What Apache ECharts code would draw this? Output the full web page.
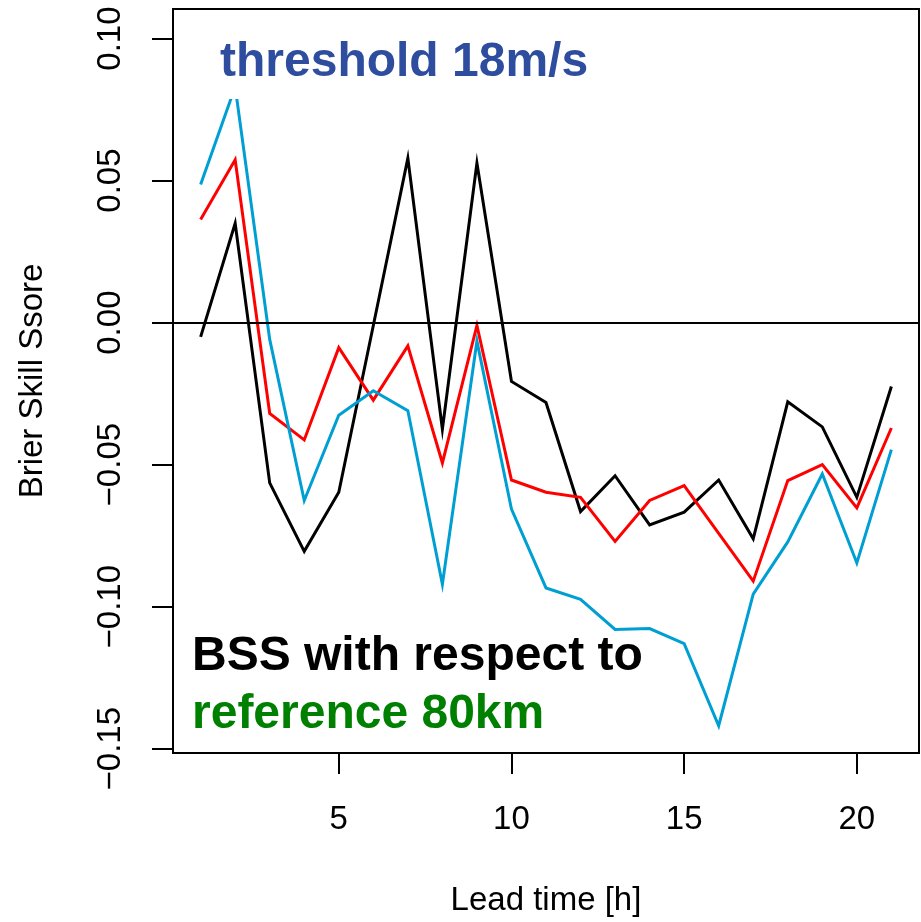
<!DOCTYPE html>
<html>
<head>
<meta charset="utf-8">
<script src="https://cdn.jsdelivr.net/npm/echarts@6/dist/echarts.min.js"></script>
<style>
  html, body { margin: 0; padding: 0; background: #fff; }
  #chart { width: 921px; height: 922px; }
</style>
</head>
<body>
<div id="chart"></div>
<script>
// Lead times (hours)
const leadTimes = [1, 2, 3, 4, 5, 6, 7, 8, 9, 10, 11, 12, 13, 14, 15, 16, 17, 18, 19, 20, 21];

// Brier Skill Score per lead time, one array per experiment
const bssBlack = [-0.005, 0.035, -0.0564, -0.0805, -0.0597, -0.001, 0.0579, -0.0375, 0.0562, -0.0207,
                  -0.0281, -0.0665, -0.0539, -0.0712, -0.0667, -0.0554, -0.0761, -0.0279, -0.0367, -0.0615, -0.0225];
const bssRed   = [0.0363, 0.0573, -0.032, -0.0413, -0.0088, -0.0273, -0.0082, -0.0494, -0.001, -0.0554,
                  -0.0597, -0.0615, -0.077, -0.0626, -0.0574, -0.0742, -0.091, -0.0556, -0.05, -0.0652, -0.0371];
const bssCyan  = [0.0486, 0.083, -0.0059, -0.0626, -0.0326, -0.024, -0.031, -0.0921, -0.0065, -0.0656,
                  -0.0934, -0.0974, -0.108, -0.1077, -0.113, -0.1419, -0.0956, -0.0772, -0.0533, -0.0846, -0.0447];

// Axis tick positions
const xTicks = [5, 10, 15, 20];
const yTicks = [-0.15, -0.10, -0.05, 0.00, 0.05, 0.10];

const FONT = '"Liberation Sans", Arial, Helvetica, sans-serif';

function pairs(ys) {
  return leadTimes.map((x, i) => [x, ys[i]]);
}

const chart = echarts.init(document.getElementById('chart'), null, { renderer: 'canvas' });

const lineSeries = (name, data, color) => ({
  name: name,
  type: 'line',
  data: pairs(data),
  symbol: 'none',
  smooth: false,
  lineStyle: { color: color, width: 3, join: 'miter' },
  z: 3,
  animation: false
});

const black = lineSeries('black', bssBlack, '#000000');
// horizontal reference line at zero skill
black.markLine = {
  silent: true,
  symbol: 'none',
  label: { show: false },
  lineStyle: { color: '#000', width: 2, type: 'solid' },
  data: [{ yAxis: 0 }],
  animation: false
};

chart.setOption({
  animation: false,
  backgroundColor: '#fff',
  grid: {
    left: 173, top: 9, right: 2, bottom: 167,
    show: true, borderColor: '#000', borderWidth: 2, backgroundColor: 'transparent'
  },
  xAxis: {
    type: 'value',
    min: 0.2, max: 21.8,
    name: 'Lead time [h]',
    nameLocation: 'middle',
    nameGap: 131,
    nameTextStyle: { fontFamily: FONT, fontSize: 33, color: '#000' },
    axisLine: { show: false, onZero: false },
    splitLine: { show: false },
    axisTick: { show: true, customValues: xTicks, length: 21, inside: false, lineStyle: { color: '#000', width: 2 } },
    axisLabel: {
      show: true, customValues: xTicks, margin: 50,
      fontFamily: FONT, fontSize: 33, color: '#000',
      formatter: v => String(v)
    }
  },
  yAxis: {
    type: 'value',
    min: -0.1515, max: 0.1104,
    name: 'Brier Skill Ssore',
    nameLocation: 'middle',
    nameGap: 124,
    nameRotate: 90,
    nameTextStyle: { fontFamily: FONT, fontSize: 33, color: '#000' },
    axisLine: { show: false, onZero: false },
    splitLine: { show: false },
    axisTick: { show: true, customValues: yTicks, length: 21, inside: false, lineStyle: { color: '#000', width: 2 } },
    axisLabel: {
      show: true, customValues: yTicks, margin: 46, rotate: 90,
      fontFamily: FONT, fontSize: 33, color: '#000',
      formatter: v => (v < 0 ? '\u2212' : '') + Math.abs(v).toFixed(2)
    }
  },
  series: [black, lineSeries('red', bssRed, '#FF0000'), lineSeries('cyan', bssCyan, '#009FD3')],
  graphic: [
    // white legend box behind the title text
    { type: 'rect', z: 50, silent: true, shape: { x: 190, y: 10, width: 430, height: 89 }, style: { fill: '#fff' } },
    { type: 'text', z: 51, silent: true, left: 220, top: 39,
      style: { text: 'threshold 18m/s', font: 'bold 48px ' + FONT, fill: '#2E4D9E' } },
    { type: 'text', z: 51, silent: true, left: 192, top: 633,
      style: { text: 'BSS with respect to', font: 'bold 48px ' + FONT, fill: '#000' } },
    { type: 'text', z: 51, silent: true, left: 192, top: 691,
      style: { text: 'reference 80km', font: 'bold 48px ' + FONT, fill: '#008000' } }
  ]
});
</script>
</body>
</html>
